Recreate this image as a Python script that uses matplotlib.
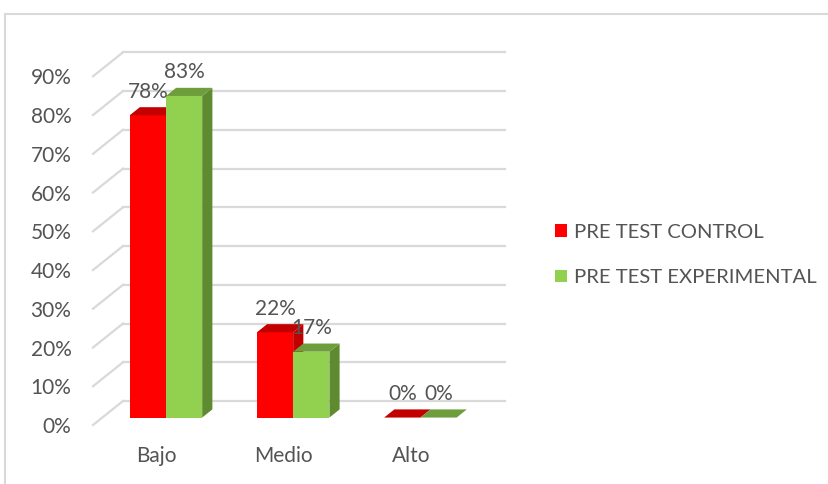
import matplotlib.pyplot as plt
from matplotlib.patches import Polygon, Rectangle, Patch

categories = ["Bajo", "Medio", "Alto"]
series_names = ["PRE TEST CONTROL", "PRE TEST EXPERIMENTAL"]
pre_control = [78, 22, 0]
pre_experimental = [83, 17, 0]
tick_values = list(range(0, 100, 10))

face_colors = ["#FF0000", "#92D050"]
side_colors = ["#C00000", "#5E8B2F"]
top_colors = ["#C20000", "#6E9E3C"]
grid_color = "#D9D9D9"
text_color = "#545454"
FONT = "Lato"
FS = 15

W, H = 829, 484
fig = plt.figure(figsize=(W / 100, H / 100), dpi=100)

# chart border
fig.patches.append(Rectangle((5 / W, -0.1), 1.1, 1 - 14 / H + 0.1, transform=fig.transFigure,
                             fill=False, edgecolor=grid_color, lw=1.5))

# front plane of the 3d box, in pixels
left, right, bottom, top = 93, 474.7, 425, 76.3
ax = fig.add_axes([left / W, 1 - bottom / H, (right - left) / W, (bottom - top) / H])
ax.set_xlim(0, 3)
ax.set_ylim(0, 90)
for s in ax.spines.values():
    s.set_visible(False)
ax.patch.set_visible(False)

# full depth of the box in data units
DX = 30 / (right - left) * 3
DY = 24 / (bottom - top) * 90

# back wall grid + left diagonals
for v in tick_values:
    ax.plot([DX, 3 + DX], [v + DY, v + DY], color=grid_color, lw=1.6, clip_on=False, zorder=1)
    ax.plot([0, DX], [v, v + DY], color=grid_color, lw=1.6, clip_on=False, zorder=1)

ax.set_yticks(tick_values, [f"{v}%" for v in tick_values])
ax.set_xticks([0.5, 1.5, 2.5], categories)
ax.tick_params(axis="y", length=0, pad=15.5, labelsize=FS, labelcolor=text_color)
ax.tick_params(axis="x", length=0, pad=15, labelsize=FS, labelcolor=text_color)
for lab in ax.get_xticklabels() + ax.get_yticklabels():
    lab.set_fontfamily(FONT)

bar_w = 0.285
d0, d1 = 0.31, 0.65  # depth of bar front / back as fraction of box
for s, values in enumerate([pre_control, pre_experimental]):
    for i, v in enumerate(values):
        x0 = i + 0.5 - bar_w + s * bar_w + d0 * DX
        x1 = x0 + bar_w
        y0 = d0 * DY
        y1 = v + d0 * DY
        ddx = (d1 - d0) * DX
        ddy = (d1 - d0) * DY
        front = Polygon([(x0, y0), (x1, y0), (x1, y1), (x0, y1)], closed=True,
                        facecolor=face_colors[s], edgecolor="none", clip_on=False, zorder=3)
        side = Polygon([(x1, y0), (x1 + ddx, y0 + ddy), (x1 + ddx, y1 + ddy), (x1, y1)], closed=True,
                       facecolor=side_colors[s], edgecolor="none", clip_on=False, zorder=3)
        topf = Polygon([(x0, y1), (x1, y1), (x1 + ddx, y1 + ddy), (x0 + ddx, y1 + ddy)], closed=True,
                       facecolor=top_colors[s], edgecolor="none", clip_on=False, zorder=3)
        for p in (front, side, topf):
            ax.add_patch(p)
        ax.annotate(f"{v}%", ((x0 + x1) / 2, y1), xytext=(0, 17), textcoords="offset points",
                    ha="center", va="center", fontsize=FS, color=text_color, family=FONT,
                    zorder=5, annotation_clip=False)

handles = [Patch(facecolor=c, edgecolor="none") for c in face_colors]
fig.legend(handles, series_names, loc="center left", bbox_to_anchor=(545 / W, 1 - 255 / H),
           frameon=False, prop={"family": FONT, "size": 14.6},
           handlelength=0.6, handleheight=0.6, handletextpad=0.35, labelspacing=1.4,
           borderpad=0, labelcolor=text_color)

fig.savefig("out.png", dpi=100)
